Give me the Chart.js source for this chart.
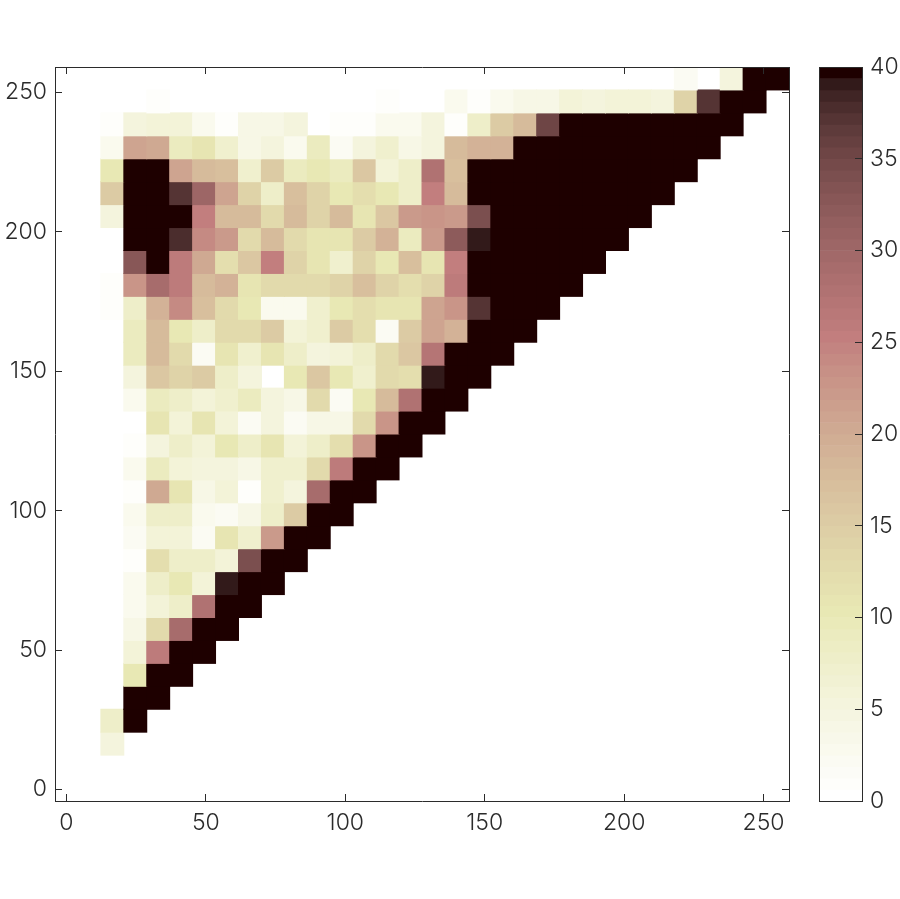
<!DOCTYPE html>
<html>
<head>
<meta charset="utf-8">
<style>
  body { margin: 0; background: #fff; }
  canvas { position: absolute; left: 0; top: 0; }
</style>
<script src="https://cdn.jsdelivr.net/npm/chart.js@4/dist/chart.umd.min.js"></script>
</head>
<body>
<div style="position:absolute;left:0;top:0;width:900px;height:899px"><canvas id="heat"></canvas></div>
<div style="position:absolute;left:0;top:0;width:900px;height:899px"><canvas id="bar"></canvas></div>
<script>
var binCenters = [0, 8.23, 16.45, 24.68, 32.9, 41.13, 49.35, 57.58, 65.81, 74.03, 82.26, 90.48,
  98.71, 106.94, 115.16, 123.39, 131.61, 139.84, 148.06, 156.29, 164.52, 172.74, 180.97, 189.19,
  197.42, 205.65, 213.87, 222.1, 230.32, 238.55, 246.77, 255];
var axisTicks = [0, 50, 100, 150, 200, 250];
var barTicks = [0, 5, 10, 15, 20, 25, 30, 35, 40];
var _ = null;

// first row is y = 0, last row is the top of the picture
var counts = [
  [_,_,_,_,_,_,_,_,_,_,_,_,_,_,_,_,_,_,_,_,_,_,_,_,_,_,_,_,_,_,_,_],
  [_,_,_,_,_,_,_,_,_,_,_,_,_,_,_,_,_,_,_,_,_,_,_,_,_,_,_,_,_,_,_,_],
  [_,_,5,_,_,_,_,_,_,_,_,_,_,_,_,_,_,_,_,_,_,_,_,_,_,_,_,_,_,_,_,_],
  [_,_,8,40,_,_,_,_,_,_,_,_,_,_,_,_,_,_,_,_,_,_,_,_,_,_,_,_,_,_,_,_],
  [_,_,_,40,40,_,_,_,_,_,_,_,_,_,_,_,_,_,_,_,_,_,_,_,_,_,_,_,_,_,_,_],
  [_,_,_,10,40,40,_,_,_,_,_,_,_,_,_,_,_,_,_,_,_,_,_,_,_,_,_,_,_,_,_,_],
  [_,_,_,6,26,40,40,_,_,_,_,_,_,_,_,_,_,_,_,_,_,_,_,_,_,_,_,_,_,_,_,_],
  [_,_,_,4,13,29,40,40,_,_,_,_,_,_,_,_,_,_,_,_,_,_,_,_,_,_,_,_,_,_,_,_],
  [_,_,_,3,6,8,28,40,40,_,_,_,_,_,_,_,_,_,_,_,_,_,_,_,_,_,_,_,_,_,_,_],
  [_,_,_,3,8,10,6,39,40,40,_,_,_,_,_,_,_,_,_,_,_,_,_,_,_,_,_,_,_,_,_,_],
  [_,_,_,1,12,8,8,6,34,40,40,_,_,_,_,_,_,_,_,_,_,_,_,_,_,_,_,_,_,_,_,_],
  [_,_,_,2,6,6,2,11,7,22,40,40,_,_,_,_,_,_,_,_,_,_,_,_,_,_,_,_,_,_,_,_],
  [_,_,_,3,8,8,3,2,4,8,15,40,40,_,_,_,_,_,_,_,_,_,_,_,_,_,_,_,_,_,_,_],
  [_,_,_,1,20,11,4,6,1,7,5,29,40,40,_,_,_,_,_,_,_,_,_,_,_,_,_,_,_,_,_,_],
  [_,_,_,3,9,6,5,5,4,7,7,13,26,40,40,_,_,_,_,_,_,_,_,_,_,_,_,_,_,_,_,_],
  [_,_,_,1,5,8,6,10,8,11,6,8,12,23,40,40,_,_,_,_,_,_,_,_,_,_,_,_,_,_,_,_],
  [_,_,_,_,11,6,11,6,2,5,2,4,4,13,23,40,40,_,_,_,_,_,_,_,_,_,_,_,_,_,_,_],
  [_,_,_,3,9,8,6,7,9,5,4,13,2,10,18,28,40,40,_,_,_,_,_,_,_,_,_,_,_,_,_,_],
  [_,_,_,5,16,14,15,8,5,_,10,16,10,7,13,12,39,40,40,_,_,_,_,_,_,_,_,_,_,_,_,_],
  [_,_,_,9,18,13,2,11,7,11,8,5,6,8,13,16,27,40,40,40,_,_,_,_,_,_,_,_,_,_,_,_],
  [_,_,_,9,18,10,8,13,13,15,6,7,15,12,2,15,21,19,40,40,40,_,_,_,_,_,_,_,_,_,_,_],
  [_,_,1,8,19,24,17,13,10,3,3,7,10,12,11,11,21,23,37,40,40,40,_,_,_,_,_,_,_,_,_,_],
  [_,_,1,23,29,26,18,19,11,13,13,13,14,17,14,12,14,26,40,40,40,40,40,_,_,_,_,_,_,_,_,_],
  [_,_,_,33,40,26,20,12,16,25,14,11,7,14,10,17,11,25,40,40,40,40,40,40,_,_,_,_,_,_,_,_],
  [_,_,_,40,40,38,24,22,13,18,13,11,11,15,19,9,22,32,39,40,40,40,40,40,40,_,_,_,_,_,_,_],
  [_,_,5,40,40,40,25,18,18,13,18,14,18,11,16,22,23,22,34,40,40,40,40,40,40,40,_,_,_,_,_,_],
  [_,_,15,40,40,37,30,21,14,8,17,14,10,12,10,8,25,18,40,40,40,40,40,40,40,40,40,_,_,_,_,_],
  [_,_,10,40,40,21,18,17,7,15,9,10,9,16,6,8,28,17,40,40,40,40,40,40,40,40,40,40,_,_,_,_],
  [_,_,3,21,20,9,11,7,4,5,3,9,2,5,7,4,5,18,19,19,40,40,40,40,40,40,40,40,40,_,_,_],
  [_,_,1,5,6,6,3,1,4,4,5,_,1,1,3,3,5,1,8,15,18,35,40,40,40,40,40,40,40,40,_,_],
  [_,_,_,_,1,_,_,_,_,_,_,_,_,_,1,_,_,3,1,3,4,4,6,5,6,6,5,14,37,40,40,_],
  [_,_,_,_,_,_,_,_,_,_,_,_,_,_,_,_,0,_,_,_,_,_,_,_,_,_,_,2,_,5,40,40]
];

var halfBin = 4.113;
var axisMin = -4.113, axisMax = 259.113;
var levelCount = 64, maxCount = 40;
var inkColor = '#2b2b2b';
var labelFont = { family: 'Inter, "Open Sans", sans-serif', size: 23, weight: '300' };

// matlab style flipped pink map
function pinkLevel(i) {
  var n = levelCount;
  var t = (n - 1 - i) / (n - 1);
  var m = Math.floor(3 * n / 8);
  var idx = n - 1 - i;
  var r = idx < m ? (idx + 1) / m : 1;
  var g = idx < m ? 0 : (idx < 2 * m ? (idx - m + 1) / m : 1);
  var b = idx < 2 * m ? 0 : (idx - 2 * m + 1) / (n - 2 * m);
  var mix = function (h) { return Math.round(255 * Math.sqrt((2 * t + h) / 3)); };
  return 'rgb(' + mix(r) + ',' + mix(g) + ',' + mix(b) + ')';
}
function countColor(v) {
  var i = Math.min(levelCount - 1, Math.floor(v / maxCount * levelCount));
  return pinkLevel(i);
}

var cells = [];
var cellColors = [];
for (var r = 0; r < counts.length; r++) {
  for (var c = 0; c < counts[r].length; c++) {
    if (counts[r][c] === null) continue;
    cells.push({ x: binCenters[c], y: [binCenters[r] - halfBin, binCenters[r] + halfBin] });
    cellColors.push(countColor(counts[r][c]));
  }
}

function fixedTicks(list) {
  return function (scale) {
    scale.ticks = list.map(function (v) { return { value: v }; });
  };
}
function frameAxis(position, lo, hi, list, showLabels, tickLen, room) {
  return {
    type: 'linear', position: position, min: lo, max: hi, offset: false,
    afterBuildTicks: fixedTicks(list),
    afterFit: function (scale) {
      if (scale.isHorizontal()) scale.height = room; else scale.width = room;
    },
    border: { display: true, color: inkColor, width: 1, z: 2 },
    grid: { display: true, drawOnChartArea: false, drawTicks: tickLen !== 0, tickLength: tickLen, tickWidth: 1, tickColor: inkColor, z: 2, offset: false },
    ticks: { display: showLabels, autoSkip: false, maxRotation: 0, font: labelFont, color: '#2b2b2b', padding: 15 }
  };
}

new Chart(document.getElementById('heat'), {
  type: 'bar',
  data: {
    datasets: [{ data: cells, backgroundColor: cellColors, borderWidth: 0, inflateAmount: 0.5, barPercentage: 1, categoryPercentage: 1 }]
  },
  options: {
    responsive: true, maintainAspectRatio: false, animation: false,
    layout: { padding: { left: 0, right: 111, top: 67, bottom: 0 } },
    plugins: { legend: { display: false }, tooltip: { enabled: false } },
    scales: {
      x: frameAxis('bottom', axisMin, axisMax, axisTicks, true, -7, 98),
      y: frameAxis('left', axisMin, axisMax, axisTicks, true, -7, 55),
      xTop: frameAxis('top', axisMin, axisMax, axisTicks, false, -7, 0),
      yRight: frameAxis('right', axisMin, axisMax, axisTicks, false, -7, 0)
    }
  }
});

var levelBars = [];
var levelColors = [];
for (var i = 0; i < levelCount; i++) {
  levelBars.push({ y: (i + 0.5) * maxCount / levelCount, x: [0, 1] });
  levelColors.push(pinkLevel(i));
}

new Chart(document.getElementById('bar'), {
  type: 'bar',
  data: {
    datasets: [{ data: levelBars, backgroundColor: levelColors, borderWidth: 0, barPercentage: 1, categoryPercentage: 1 }]
  },
  options: {
    indexAxis: 'y',
    responsive: true, maintainAspectRatio: false, animation: false,
    layout: { padding: { left: 819, right: 0, top: 67, bottom: 0 } },
    plugins: { legend: { display: false }, tooltip: { enabled: false } },
    scales: {
      y: frameAxis('right', 0, maxCount, barTicks, true, -7, 38),
      x: frameAxis('bottom', 0, 1, [], false, 0, 98),
      xTop: frameAxis('top', 0, 1, [], false, 0, 0),
      yLeft: frameAxis('left', 0, maxCount, [], false, 0, 0)
    }
  }
});
</script>
</body>
</html>
